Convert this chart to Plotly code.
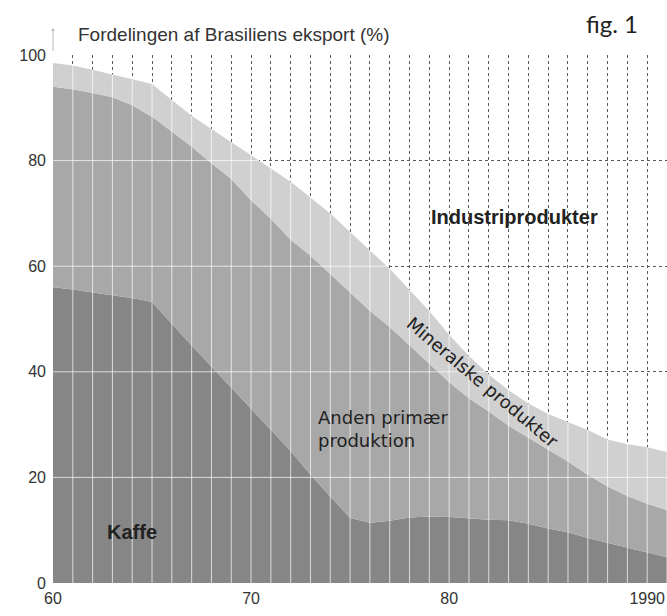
import numpy as np
import plotly.graph_objects as go

years = list(range(60, 92))
kaffe = [56, 55.6, 55, 54.5, 54, 53.2, 49, 45, 41, 37, 33, 29, 25, 20.5, 16.5, 12.3,
         11.4, 11.8, 12.4, 12.6, 12.5, 12.2, 12, 11.9, 11.2, 10.3, 9.6, 8.5, 7.6, 6.8, 5.8, 4.9]
anden = [38, 37.9, 37.8, 37.5, 36.5, 35.1, 36.5, 37.6, 38.5, 39.5, 39.5, 40, 40, 41.5, 42, 42.7,
         40.1, 36.7, 32.6, 28.9, 25.5, 22.8, 20.5, 17.9, 16.3, 14.9, 13.4, 12, 10.7, 9.7, 9.2, 8.9]
mineral = [4.5, 4.5, 4.4, 4.3, 5, 6.2, 6, 5.9, 6.5, 7, 8.5, 9.5, 11, 11, 11.5, 11.5,
           11.5, 11, 10.5, 10, 9, 8, 7, 6.7, 6.5, 6.8, 7.5, 8.5, 8.9, 9.8, 10.7, 11]
industri = [1.5, 2, 2.8, 3.7, 4.5, 5.5, 8.5, 11.5, 14, 16.5, 19, 21.5, 24, 27, 30, 33.5,
            37, 40.5, 44.5, 48.5, 53, 57, 60.5, 63.5, 66, 68, 69.5, 71, 72.8, 73.7, 74.3, 75.2]

x_tickvals = [60, 70, 80, 90]
x_ticktext = ["60", "70", "80", "1990"]
y_tickvals = [0, 20, 40, 60, 80, 100]

fig = go.Figure()
series = [
    ("Kaffe", kaffe, "#868686"),
    ("Anden primær produktion", anden, "#a8a8a8"),
    ("Mineralske produkter", mineral, "#d0d0d0"),
    ("Industriprodukter", industri, "rgba(255,255,255,0)"),
]
for name, vals, col in series:
    fig.add_trace(go.Scatter(x=years, y=vals, name=name, stackgroup="one",
                             mode="lines", line=dict(width=0, color=col),
                             fillcolor=col, showlegend=False, hoverinfo="x+y+name"))

# white grid lines visible over the grey areas
yrs = np.array(years, dtype=float)
top = np.array(kaffe) + np.array(anden) + np.array(mineral)
gx, gy = [], []
for i in range(1, len(years)):
    gx += [yrs[i], yrs[i], None]
    gy += [0, top[i], None]
for h in [20, 40, 60, 80]:
    xe = float(np.interp(h, top[::-1], yrs[::-1]))
    gx += [yrs[0], xe, None]
    gy += [h, h, None]
fig.add_trace(go.Scatter(x=gx, y=gy, mode="lines",
                         line=dict(color="rgba(255,255,255,0.7)", width=1),
                         showlegend=False, hoverinfo="skip"))

tickfont = dict(family="Liberation Sans, Arial, sans-serif", size=16, color="#333")
fig.update_xaxes(range=[60, 91], tickvals=x_tickvals, ticktext=x_ticktext,
                 showgrid=True, gridcolor="#5a5a5a", griddash="dot", gridwidth=1,
                 minor=dict(dtick=1, tick0=60, showgrid=True, gridcolor="#5a5a5a",
                            griddash="dot", gridwidth=1),
                 zeroline=False, showline=False, ticks="", tickfont=tickfont,
                 ticklabelstandoff=4, automargin=False)
fig.update_yaxes(range=[0, 100], tickvals=y_tickvals,
                 showgrid=True, gridcolor="#5a5a5a", griddash="dot", gridwidth=1,
                 zeroline=False, showline=False, ticks="", tickfont=tickfont,
                 ticklabelstandoff=6, automargin=False)

lab_bold = dict(family="Liberation Sans, Arial, sans-serif", size=20, color="#222")
lab_geo = dict(family="DejaVu Sans, sans-serif", size=18, color="#222")
fig.add_annotation(x=83.3, y=69.3, text="<b>Industriprodukter</b>", showarrow=False, font=lab_bold)
fig.add_annotation(x=81.7, y=38.0, text="Mineralske produkter", showarrow=False,
                   font=lab_geo, textangle=40)
fig.add_annotation(x=73.3, y=29.2, text="Anden primær<br>produktion", showarrow=False,
                   font=lab_geo, align="left", xanchor="left")
fig.add_annotation(x=64.0, y=9.7, text="<b>Kaffe</b>", showarrow=False, font=lab_bold)

# y-axis arrow tip above the frame
fig.add_annotation(x=60, y=1.05, xref="x", yref="paper", ax=0, ay=24, text="",
                   showarrow=True, arrowhead=1, arrowsize=0.8, arrowwidth=0.8,
                   arrowcolor="#aaa")
fig.add_annotation(x=0.037, y=1.039, xref="paper", yref="paper", xanchor="left",
                   yanchor="middle", text="Fordelingen af Brasiliens eksport (%)",
                   showarrow=False,
                   font=dict(family="Liberation Sans, Arial, sans-serif", size=19, color="#333"))
fig.add_annotation(x=0.91, y=1.059, xref="paper", yref="paper", xanchor="center",
                   yanchor="middle", text="fig. 1", showarrow=False,
                   font=dict(family="Lato, Noto Sans, sans-serif", size=24, color="#222"))

fig.update_layout(width=667, height=616, margin=dict(l=53, r=0, t=55, b=33),
                  plot_bgcolor="white", paper_bgcolor="white")
fig.write_html("out.html", config={"displayModeBar": False},
               post_script="document.body.style.margin='0';document.body.style.overflow='hidden';")
